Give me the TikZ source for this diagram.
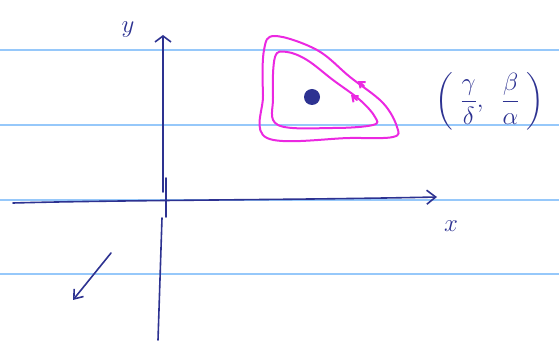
\documentclass[tikz,border=0pt]{standalone}
\usepackage{amsmath, amssymb}
\usetikzlibrary{arrows.meta, positioning, calc}
\definecolor{inkblue}{RGB}{45, 50, 145}
\definecolor{ruleblue}{RGB}{150, 200, 250}
\definecolor{orbitpink}{RGB}{235, 40, 225}

\begin{document}
\begin{tikzpicture}[
  x=1pt, y=-1pt,
  ruling/.style={draw=ruleblue, line width=1.3pt},
  ink/.style={draw=inkblue, line width=1.6pt, line cap=round, line join=round},
  orbit/.style={draw=orbitpink, line width=2pt, line cap=round, line join=round},
  inklabel/.style={text=inkblue, font=\fontsize{24}{26}\selectfont}
]
  \useasboundingbox (0,0) rectangle (559,344);
  % ruled paper
  \foreach \yy in {50, 125, 200, 274}
    \draw[ruling] (0,\yy) -- (559,\yy);

  % axes
  \coordinate (xleft) at (13,203);
  \coordinate (xright) at (437,197);
  \coordinate (ybottom) at (158,340);
  \coordinate (ygap) at (162,218);
  \coordinate (ybreak) at (163,192);
  \coordinate (ytop) at (163,35);
  \draw[ink, -{Straight Barb[length=9pt, width=14pt]}] (xleft) .. controls (120,200) and (300,200) .. (xright);
  \draw[ink] (ybottom) -- (ygap);
  \draw[ink, -{Straight Barb[length=6pt, width=16pt]}] (ybreak) -- (ytop);
  \draw[ink] (166,178) -- (166,217);
  \node[inklabel] (ylab) at (128,30) {$y$};
  \node[inklabel] (xlab) at (451,226) {$x$};

  % stray arrow
  \coordinate (tail) at (111,253);
  \coordinate (head) at (73,300);
  \draw[ink, -{Straight Barb[length=8pt, width=12pt]}] (tail) -- (head);

  % equilibrium and orbits
  \node[circle, fill=inkblue, inner sep=0pt, minimum size=16pt] (eq) at (312,97) {};
  \draw[orbit] plot[smooth cycle, tension=0.6] coordinates {
    (275,36) (317,50) (350,77) (383,103) (397,127) (393,137)
    (350,138) (267,138) (263,95) (264,50)};
  \draw[orbit] plot[smooth cycle, tension=0.6] coordinates {
    (287,52) (307,60) (333,80) (360,100) (375,117) (373,125)
    (333,128) (278,125) (273,97) (275,57)};
  \draw[orbit, -{Straight Barb[length=5pt, width=8pt]}] (364,86) -- (358,81);
  \draw[orbit, -{Straight Barb[length=5pt, width=8pt]}] (357,100) -- (351,95);
  \node[inklabel] (eqlab) at (490,101)
    {$\left(\;\dfrac{\gamma}{\delta},\;\;\dfrac{\beta}{\alpha}\;\right)$};
\end{tikzpicture}
\end{document}
